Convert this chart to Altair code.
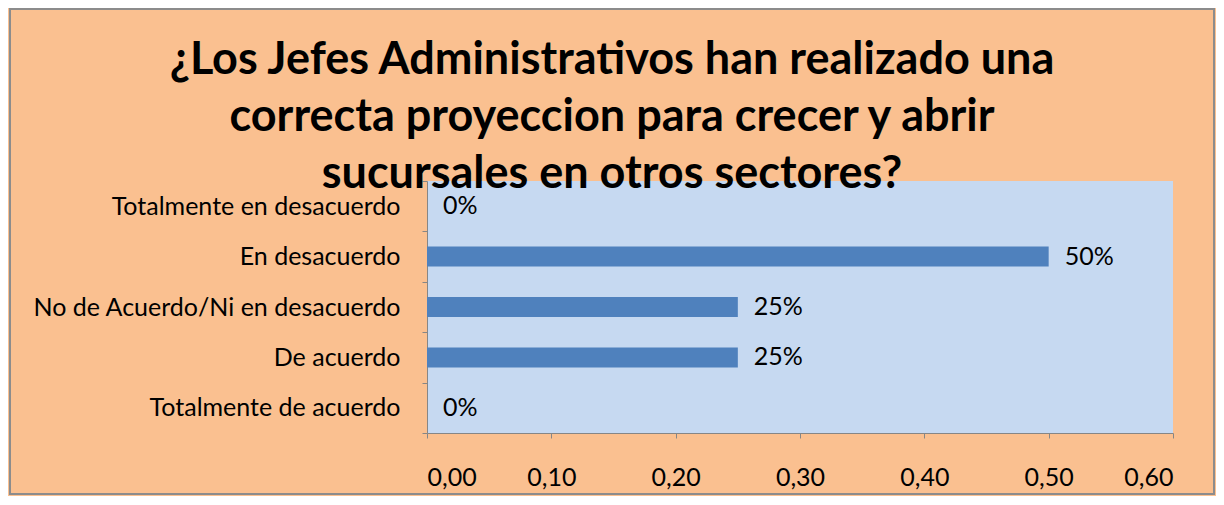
import altair as alt
import pandas as pd

categories = ["Totalmente en desacuerdo", "En desacuerdo",
              "No de Acuerdo/Ni en desacuerdo", "De acuerdo", "Totalmente de acuerdo"]
values = [0.0, 0.50, 0.25, 0.25, 0.0]
pct_labels = ["0%", "50%", "25%", "25%", "0%"]
x_ticks = [0.0, 0.1, 0.2, 0.3, 0.4, 0.5, 0.6]
title_lines = ["¿Los Jefes Administrativos han realizado una",
               "correcta proyeccion para crecer y abrir",
               "sucursales en otros sectores?"]

df = pd.DataFrame({"cat": categories, "val": values, "lab": pct_labels})

FONT = "Lato"
LABEL_SIZE = 25

y_enc = alt.Y("cat:N", sort=categories, title=None,
              scale=alt.Scale(paddingInner=0, paddingOuter=0),
              axis=alt.Axis(tickBand="extent", tickSize=5, labelPadding=22,
                            labelFontSize=LABEL_SIZE, labelFont=FONT, labelColor="#000000",
                            domainColor="#868686", tickColor="#868686", labelLimit=400))
x_enc = alt.X("val:Q", title=None,
              scale=alt.Scale(domain=[0, 0.6], nice=False),
              axis=alt.Axis(values=x_ticks, tickSize=5, labelPadding=27, grid=False,
                            labelFontSize=LABEL_SIZE, labelFont=FONT, labelColor="#000000",
                            domainColor="#868686", tickColor="#868686",
                            labelExpr="replace(format(datum.value, '.2f'), '.', ',')"))

base = alt.Chart(df)
bars = base.mark_bar(color="#4F81BD", size=20).encode(y=y_enc, x=x_enc)
texts = base.mark_text(align="left", baseline="middle", dx=16, font=FONT,
                       fontSize=LABEL_SIZE, color="#000000").encode(
    y=alt.Y("cat:N", sort=categories), x="val:Q", text="lab:N")

border = alt.Chart(pd.DataFrame({"a": [0]})).mark_rect(
    fill=None, stroke="#8C8C8C", strokeWidth=2).encode(
    x=alt.value(-417), x2=alt.value(787), y=alt.value(-172), y2=alt.value(313))

chart = alt.layer(border, bars, texts).properties(
    width=746, height=252,
    autosize=alt.AutoSizeParams(type="none"),
    padding={"left": 419, "top": 173, "right": 43, "bottom": 63},
    title=alt.TitleParams(text=title_lines, fontSize=45, font=FONT, fontWeight="bold",
                          color="#000000", lineHeight=57, anchor="middle",
                          frame="group", dx=-188, offset=-189),
).configure(background="#FAC090").configure_view(fill="#C6D9F1", stroke=None)

chart.save("out.html", embed_options={"renderer": "svg", "actions": False})
